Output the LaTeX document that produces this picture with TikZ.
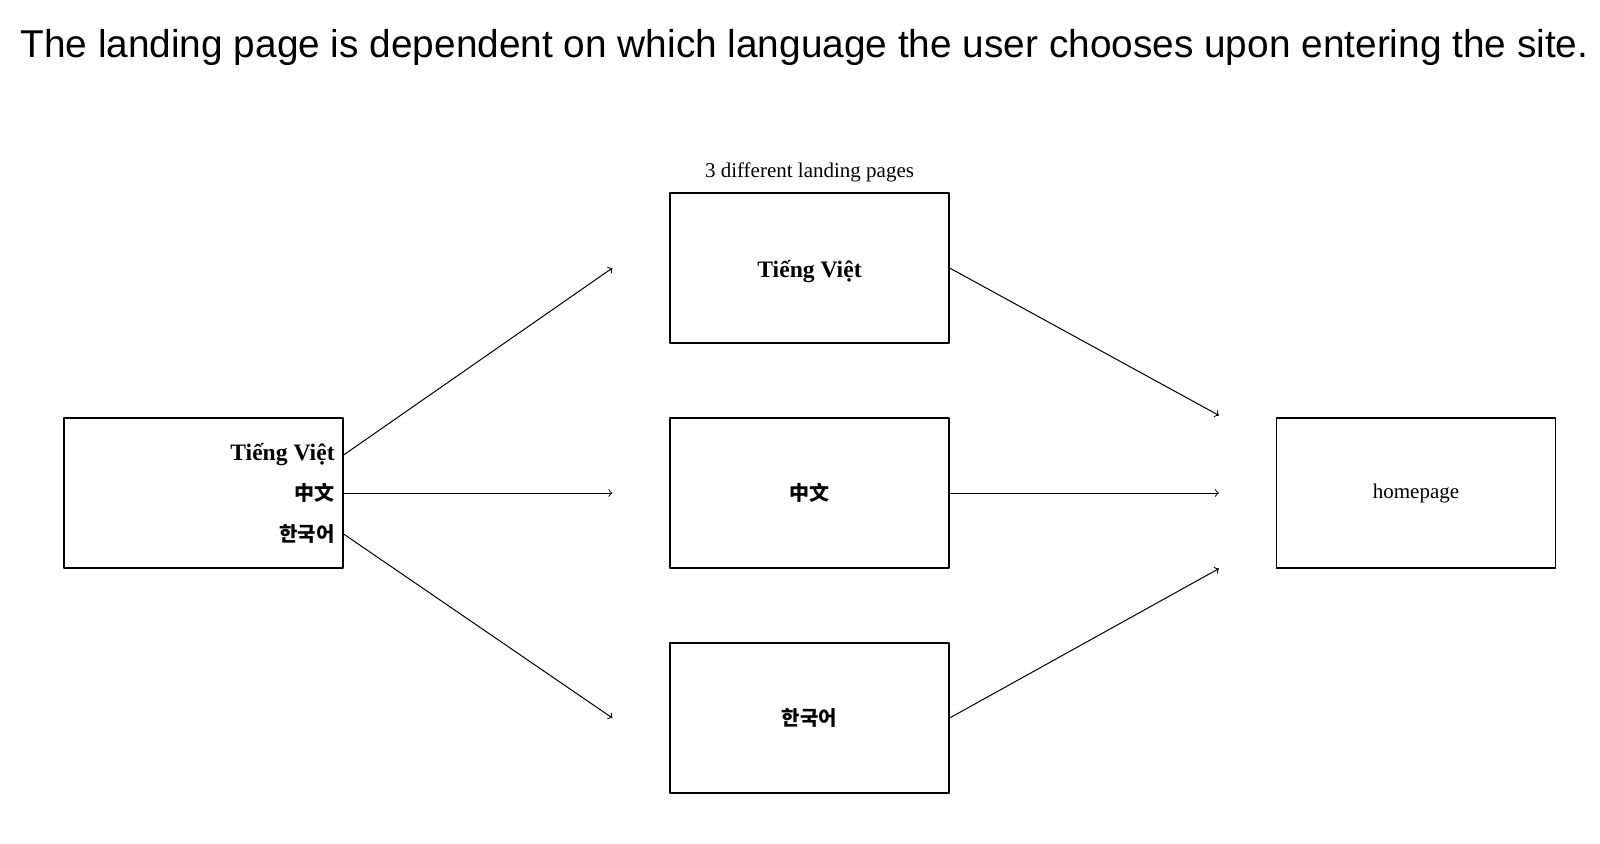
\documentclass[tikz,border=0pt]{standalone}
\usepackage{fontspec}
\usepackage{graphicx}
\setmainfont{Liberation Serif}
\newfontfamily\headfont{Liberation Sans}
\newfontfamily\zhfont{Noto Sans CJK SC}
\newfontfamily\kofont{Noto Sans CJK KR}
\usetikzlibrary{positioning}

\begin{document}
\begin{tikzpicture}[line cap=round,line join=round,>=to,x=0.5pt,y=-0.5pt,
    box/.style={draw,line width=0.6pt,minimum width=139.5pt,minimum height=75pt,inner sep=0pt,font=\fontsize{11.8}{13}\selectfont\bfseries},
    langlbl/.style={anchor=east,inner sep=0pt,font=\fontsize{11.8}{13}\selectfont\bfseries},
    link/.style={->,line width=0.5pt}]
\useasboundingbox (0,0) rectangle (1600,844);
% heading
\node[anchor=base west,inner sep=0pt,font=\headfont\fontsize{19.4}{22}\selectfont] (head) at (20,58) {The landing page is dependent on which language the user chooses upon entering the site.};
% language picker
\node[box] (pick) at (203.5,493) {};
\node[langlbl] (pvi) at (335,455) {Tiếng Việt};
\node[langlbl] (pzh) at (335,493) {\zhfont\fontsize{10}{12}\selectfont 中文};
\node[langlbl] (pko) at (335,534) {\kofont\fontsize{10}{12}\selectfont 한국어};
% landing pages
\node[box] (vi) at (809.5,268) {};
\node[inner sep=0pt,font=\fontsize{11.8}{13}\selectfont\bfseries] (vitxt) at ([yshift=-2pt]vi.center) {Tiếng Việt};
\node[box] (zh) at (809.5,493) {\zhfont\fontsize{10}{12}\selectfont 中文};
\node[box] (ko) at (809.5,718) {\kofont\fontsize{10}{12}\selectfont 한국어};
\node[above=5pt of vi,inner sep=0pt,font=\fontsize{10.5}{12}\selectfont] (cap) {3 different landing pages};
% homepage
\node[box,font=\fontsize{10.5}{12}\selectfont] (home) at (1416,493) {homepage};
% arrow ends
\coordinate (vin) at ([xshift=-28.5pt]vi.west);
\coordinate (zin) at ([xshift=-28.5pt]zh.west);
\coordinate (kin) at ([xshift=-28.5pt]ko.west);
\coordinate (hin1) at ([xshift=-28.5pt,yshift=1pt]home.north west);
\coordinate (hin2) at ([xshift=-28.5pt]home.west);
\coordinate (hin3) at ([xshift=-28.5pt]home.south west);
\draw[link] (pvi -| pick.east) -- (vin);
\draw[link] (pzh -| pick.east) -- (zin);
\draw[link] (pko -| pick.east) -- (kin);
\draw[link] (vi.east) -- (hin1);
\draw[link] (zh.east) -- (hin2);
\draw[link] (ko.east) -- (hin3);
\end{tikzpicture}
\end{document}
